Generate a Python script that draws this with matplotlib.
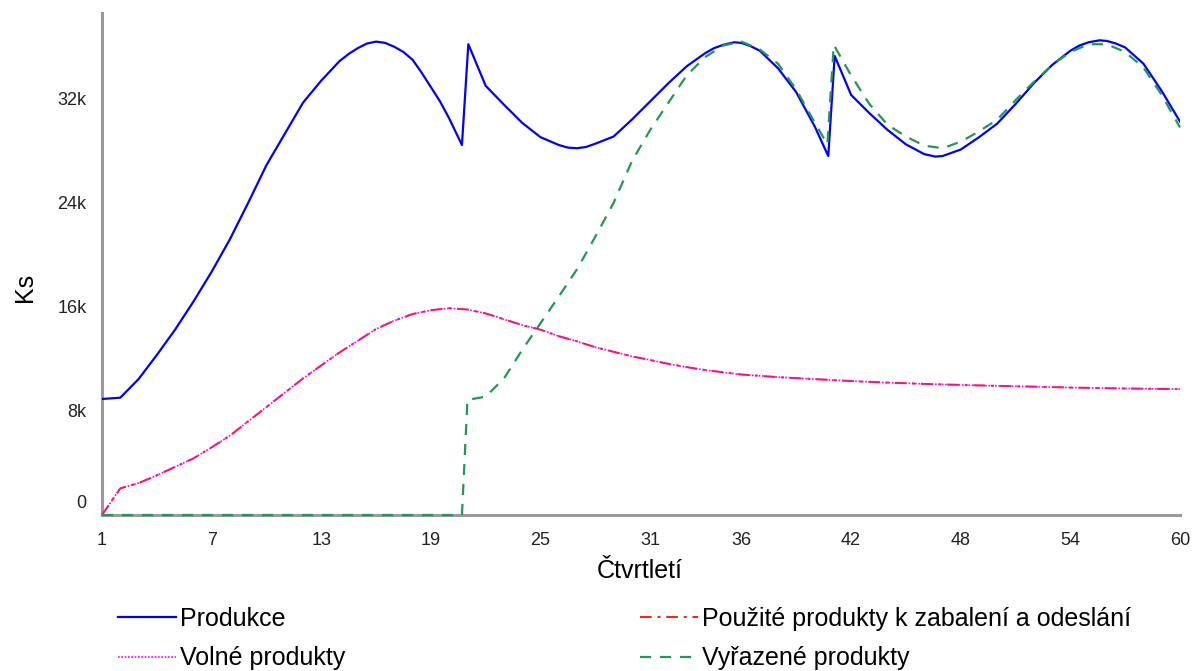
import matplotlib
matplotlib.use('Agg')
import matplotlib.pyplot as plt
from matplotlib.transforms import ScaledTranslation

plt.rcParams['font.family'] = ['Liberation Sans', 'DejaVu Sans']

# quarter index (ctvrtleti) and values in thousands of Ks
prod_x = [1, 2, 3, 4, 5, 6, 7, 8, 9, 10, 11, 12, 13, 14, 14.5, 15, 15.5, 16, 16.5, 17,
          17.5, 18, 18.5, 19, 19.5, 20,
          20.7, 21.05, 22, 23, 24, 25, 26, 26.5, 27, 27.5, 28, 29, 30, 31, 32, 33, 34,
          34.5, 35, 35.6, 36, 36.5, 37, 38, 39, 40, 40.75, 41.1, 42, 43, 44, 45, 46,
          46.6, 47, 48, 49, 50, 51, 52, 53, 54, 54.5, 55, 55.6, 56, 56.5, 57, 58, 59, 60]
prod_y = [8.92, 9.02, 10.45, 12.3, 14.25, 16.4, 18.7, 21.2, 24.0, 26.9, 29.3, 31.7,
          33.4, 34.9, 35.45, 35.9, 36.25, 36.4, 36.3, 36.0,
          35.6, 35.0, 34.0, 32.9, 31.8, 30.5,
          28.45, 36.2, 33.0, 31.55, 30.15, 29.05, 28.45, 28.25, 28.2, 28.3, 28.55, 29.1,
          30.4, 31.8, 33.2, 34.5, 35.5,
          35.9, 36.15, 36.35, 36.3, 36.05, 35.7, 34.35, 32.5, 29.9, 27.6, 35.3, 32.3,
          30.9, 29.6, 28.5, 27.75,
          27.56, 27.6, 28.1, 29.05, 30.1, 31.6, 33.2, 34.6, 35.7, 36.1, 36.35, 36.5,
          36.45, 36.25, 35.95, 34.7, 32.6, 30.25]

volne_x = [1, 2, 3, 4, 5, 6, 7, 8, 9, 10, 11, 12, 13, 14, 15, 16, 17, 18, 19, 20,
           21, 22, 23, 24, 25, 26, 27, 28, 29, 30, 31, 32, 33, 34, 35, 36, 38, 40,
           42, 44, 46, 48, 50, 52, 54, 56, 58, 60]
volne_y = [0.0, 2.05, 2.45, 3.05, 3.7, 4.35, 5.2, 6.1, 7.2, 8.3, 9.4, 10.5, 11.5,
           12.5, 13.4, 14.3, 14.95, 15.45, 15.75, 15.9,
           15.8, 15.5, 15.05, 14.6, 14.25, 13.75, 13.35, 12.9, 12.55, 12.2, 11.92,
           11.62, 11.37, 11.15, 10.97, 10.8, 10.6, 10.45,
           10.3, 10.18, 10.08, 10.0, 9.93, 9.87, 9.8, 9.75, 9.71, 9.68]

# used products follow the free products curve
pouzite_x = volne_x
pouzite_y = volne_y

vyraz_x = [1, 20.7, 21.0, 22, 23, 24, 25, 26, 27, 28, 29, 30, 31, 32, 33, 34, 35,
           36, 37, 38, 39, 40, 40.7, 41.05, 42, 43, 44, 45, 46, 47, 48, 49, 50, 51,
           52, 53, 54, 55, 56, 57, 58, 59, 60]
vyraz_y = [0.0, 0.0, 8.85, 9.1, 10.5, 12.7, 14.75, 16.8, 18.9, 21.4, 24.0, 27.2,
           29.6, 31.7, 33.8, 35.2, 36.1,
           36.4, 35.8, 34.7, 32.7, 30.2, 28.5, 36.15, 33.8, 31.6, 30.0, 29.1, 28.4,
           28.2, 28.7, 29.5, 30.4, 31.9,
           33.3, 34.6, 35.6, 36.2, 36.2, 35.6, 34.4, 32.3, 29.8]

x_ticks = [1, 7, 13, 19, 25, 31, 36, 42, 48, 54, 60]
y_ticks = [0, 8, 16, 24, 32]
y_tick_labels = ['0', '8k', '16k', '24k', '32k']

fig = plt.figure(figsize=(11.93, 6.71), dpi=100)
ax = fig.add_axes([102 / 1193, 1 - 515 / 671, 1078 / 1193, 502 / 671])

l1, = ax.plot(prod_x, prod_y, color='#0000ff', lw=1.6, label='Produkce', zorder=3)
l3, = ax.plot(pouzite_x, pouzite_y, color='#ff1a1a', lw=1.4, ls=(0, (6, 3, 1.5, 3)),
              label='Použité produkty k zabalení a odeslání', zorder=3, clip_on=False)
l2, = ax.plot(volne_x, volne_y, color='#ff00ff', lw=1.2, ls=(0, (1, 1)),
              label='Volné produkty', zorder=4, clip_on=False)
l4, = ax.plot(vyraz_x, vyraz_y, color='#1f9a55', lw=1.6, ls=(0, (5, 4)),
              label='Vyřazené produkty', zorder=5, clip_on=False)

ax.set_xlim(1, 60)
ax.set_ylim(0, 38.6)
ax.set_xticks(x_ticks)
ax.set_xticklabels([str(t) for t in x_ticks])
ax.set_yticks(y_ticks)
ax.set_yticklabels(y_tick_labels)

for s in ['top', 'right']:
    ax.spines[s].set_visible(False)
for s in ['left', 'bottom']:
    ax.spines[s].set_color('#9a9a9a')
    ax.spines[s].set_linewidth(2.2)
    ax.spines[s].set_zorder(2)

ax.tick_params(axis='both', length=0, labelsize=13, colors='#222222')
ax.tick_params(axis='y', pad=11)
ax.tick_params(axis='x', pad=12)

# the zero label sits a bit above the axis
lbl0 = ax.get_yticklabels()[0]
lbl0.set_transform(lbl0.get_transform() + ScaledTranslation(0, 0.13, fig.dpi_scale_trans))

fig.text(640 / 1193, 1 - 571 / 671, 'Čtvrtletí', ha='center', va='center', fontsize=18)
fig.text(25 / 1193, 1 - 287 / 671, 'Ks', ha='center', va='center', fontsize=18, rotation=90)

leg_kw = dict(loc='upper left', frameon=False, fontsize=18, handlelength=2.3,
              handletextpad=0.2, labelspacing=0.62, borderpad=0, borderaxespad=0)
fig.legend(handles=[l1, l2], bbox_to_anchor=(118 / 1193, 1 - 607 / 671), **leg_kw)
fig.legend(handles=[l3, l4], bbox_to_anchor=(640 / 1193, 1 - 607 / 671), **leg_kw)

fig.savefig('out.png', dpi=100)
